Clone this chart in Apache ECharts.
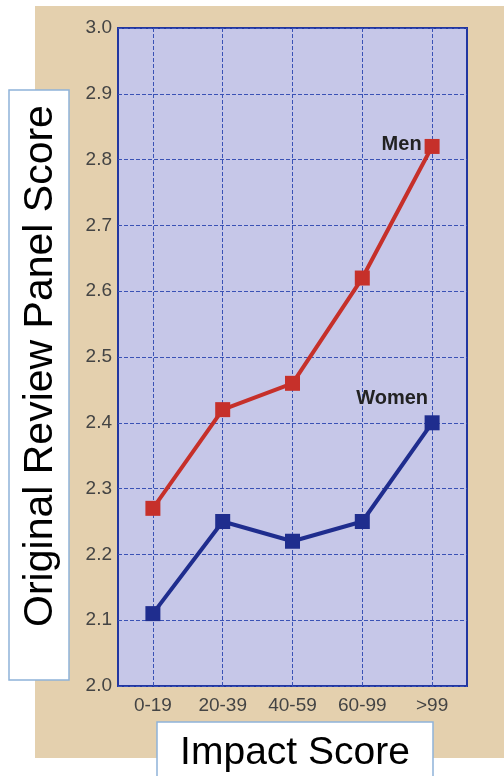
<!DOCTYPE html>
<html><head><meta charset="utf-8">
<script src="https://cdn.jsdelivr.net/npm/echarts@6/dist/echarts.min.js"></script>
<style>html,body{margin:0;padding:0;background:#fff}#c{width:504px;height:776px}</style>
</head><body><div id="c"></div>
<script>
const categories = ['0-19','20-39','40-59','60-99','>99'];
const men = [2.27, 2.42, 2.46, 2.62, 2.82];
const women = [2.11, 2.25, 2.22, 2.25, 2.40];
const yTicks = [2.0, 2.1, 2.2, 2.3, 2.4, 2.5, 2.6, 2.7, 2.8, 2.9, 3.0];
const yTitle = 'Original Review Panel Score';
const xTitle = 'Impact Score';

const chart = echarts.init(document.getElementById('c'));
const font = 'Liberation Sans, Arial, sans-serif';
chart.setOption({
  backgroundColor: '#fff',
  animation: false,
  graphic: [
    {type:'rect', z:-10, shape:{x:35,y:6,width:469,height:752}, style:{fill:'#e4d0ae'}},
    {type:'rect', z:10, shape:{x:9,y:90,width:60,height:590}, style:{fill:'#fff', stroke:'#8fb3d9', lineWidth:1.5}},
    {type:'text', z:11, x:41, y:366, rotation:Math.PI/2, style:{text:yTitle, fill:'#000', font:'41px '+font, align:'center', verticalAlign:'middle'}},
    {type:'rect', z:10, shape:{x:157,y:722,width:276,height:60}, style:{fill:'#fff', stroke:'#8fb3d9', lineWidth:1.5}},
    {type:'text', z:11, x:295, y:753, style:{text:xTitle, fill:'#000', font:'39px '+font, align:'center', verticalAlign:'middle'}}
  ],
  grid: {left:118, right:37, top:28, bottom:90, show:true, backgroundColor:'#c6c7e8', borderColor:'#2236a0', borderWidth:2},
  xAxis: {
    type:'category', data:categories, boundaryGap:true,
    axisLine:{show:false},
    axisTick:{show:true, alignWithLabel:true, inside:true, length:658, interval:0, lineStyle:{color:'#3a52b5', width:1, type:[4,2]}},
    axisLabel:{color:'#444', fontSize:19, fontFamily:font, margin:10, interval:0},
    splitLine:{show:false}
  },
  yAxis: {
    type:'value', min:2.0, max:3.0, interval:0.1,
    axisLine:{show:false}, axisTick:{show:false},
    axisLabel:{color:'#444', fontSize:19, fontFamily:font, margin:6, formatter:v=>v.toFixed(1)},
    splitLine:{show:true, lineStyle:{color:'#3a52b5', width:1, type:[4,2]}}
  },
  series: [
    {name:'Men', type:'line', data:men, symbol:'rect', symbolSize:15, z:5,
     lineStyle:{color:'#c6302a', width:4}, itemStyle:{color:'#c6302a'},
     markPoint:{symbol:'rect', symbolSize:1, itemStyle:{color:'transparent'},
       label:{show:true, position:'left', formatter:'Men', color:'#222', fontWeight:'bold', fontSize:20, fontFamily:font, distance:10, offset:[0,-2]},
       data:[{coord:[4, men[4]]}]}
    },
    {name:'Women', type:'line', data:women, symbol:'rect', symbolSize:15, z:5,
     lineStyle:{color:'#1f2d8e', width:4}, itemStyle:{color:'#1f2d8e'},
     markPoint:{symbol:'rect', symbolSize:1, itemStyle:{color:'transparent'},
       label:{show:true, position:'top', formatter:'Women', color:'#222', fontWeight:'bold', fontSize:20, fontFamily:font, distance:14, offset:[-40,0]},
       data:[{coord:[4, women[4]]}]}
    }
  ]
});
</script></body></html>
